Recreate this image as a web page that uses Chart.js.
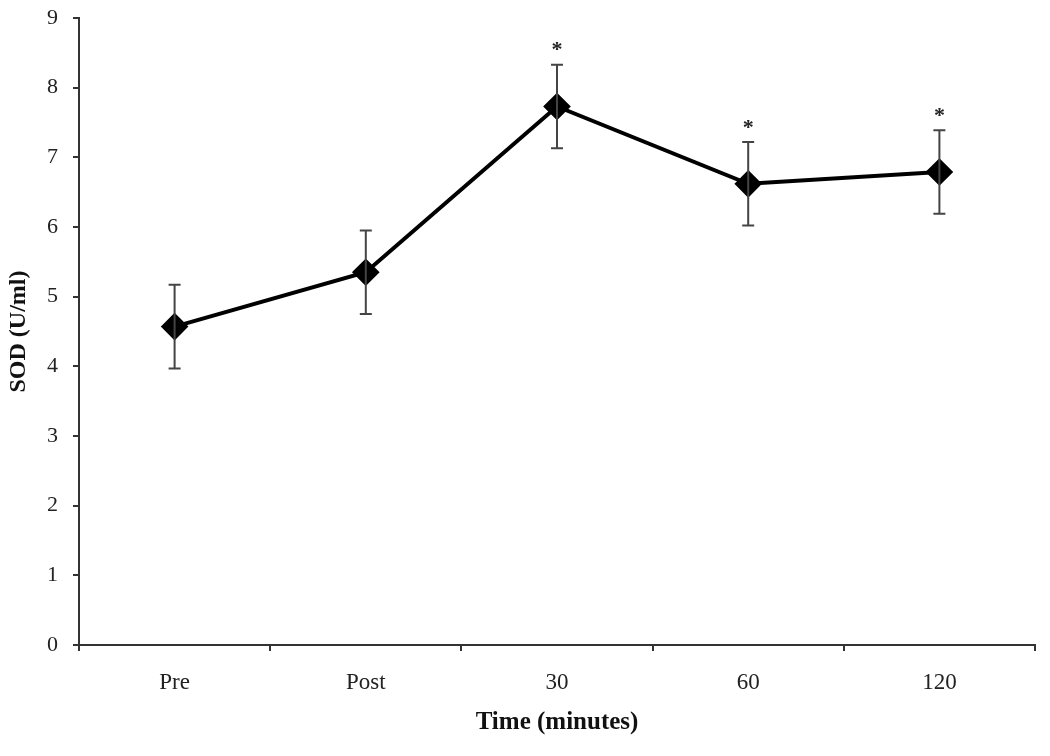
<!DOCTYPE html>
<html>
<head>
<meta charset="utf-8">
<script src="https://cdn.jsdelivr.net/npm/chart.js@4.4.1/dist/chart.umd.min.js"></script>
<style>
  html, body { margin: 0; padding: 0; background: #fff; }
  #wrap { width: 1050px; height: 756px; position: relative; }
</style>
</head>
<body>
<div id="wrap"><canvas id="graficoSOD"></canvas></div>
<script>
/* Datos */
var categorias = ['Pre', 'Post', '30', '60', '120'];
var valoresSOD = [4.57, 5.35, 7.73, 6.62, 6.79];
var erroresSOD = [0.60, 0.60, 0.60, 0.60, 0.60];
var asteriscos = [false, false, true, true, true];
var ticksY = [0, 1, 2, 3, 4, 5, 6, 7, 8, 9];

var colorEje = '#333';
var fuenteSerif = "'Liberation Serif', 'Times New Roman', serif";

/* Plugin: barras de error y asteriscos de significancia */
var pluginErrores = {
    id: 'errores',
    afterDatasetsDraw: function (chart) {
        var ctx = chart.ctx;
        var x = chart.scales.x, y = chart.scales.y;
        ctx.save();
        ctx.strokeStyle = '#444';
        ctx.lineWidth = 2;
        for (var i = 0; i < valoresSOD.length; i++) {
            var px = x.getPixelForValue(i);
            var top = y.getPixelForValue(valoresSOD[i] + erroresSOD[i]);
            var bot = y.getPixelForValue(valoresSOD[i] - erroresSOD[i]);
            ctx.beginPath();
            ctx.moveTo(px, top); ctx.lineTo(px, bot);
            ctx.moveTo(px - 6, top); ctx.lineTo(px + 6, top);
            ctx.moveTo(px - 6, bot); ctx.lineTo(px + 6, bot);
            ctx.stroke();
            if (asteriscos[i]) {
                ctx.fillStyle = '#222';
                ctx.font = 'bold 22px ' + fuenteSerif;
                ctx.textAlign = 'center';
                ctx.textBaseline = 'middle';
                ctx.fillText('*', px, top - 14);
            }
        }
        ctx.restore();
    }
};

new Chart(document.getElementById('graficoSOD'), {
    type: 'line',
    data: {
        labels: categorias,
        datasets: [{
            label: 'SOD',
            data: valoresSOD,
            borderColor: '#000',
            borderWidth: 4,
            pointStyle: 'rectRot',
            pointRadius: 11,
            pointBackgroundColor: '#000',
            pointBorderColor: '#000',
            tension: 0
        }]
    },
    options: {
        responsive: true,
        maintainAspectRatio: false,
        animation: false,
        layout: { padding: { left: 0, right: 14, top: 18, bottom: 14 } },
        plugins: {
            legend: { display: false },
            tooltip: { enabled: false }
        },
        scales: {
            x: {
                offset: true,
                grid: { offset: true, drawOnChartArea: false, drawTicks: true, tickLength: 6, color: colorEje, lineWidth: 2 },
                border: { color: colorEje, width: 2 },
                ticks: { color: '#222', padding: 18, font: { family: fuenteSerif, size: 23 } },
                title: { display: true, text: 'Time (minutes)', color: '#111', font: { family: fuenteSerif, size: 25, weight: 'bold' } },
                afterFit: function (s) { s.height = 97; }
            },
            y: {
                min: 0,
                max: 9,
                afterBuildTicks: function (s) { s.ticks = ticksY.map(function (v) { return { value: v }; }); },
                grid: { drawOnChartArea: false, drawTicks: true, tickLength: 6, color: colorEje, lineWidth: 2 },
                border: { color: colorEje, width: 2 },
                ticks: { color: '#222', padding: 15, font: { family: fuenteSerif, size: 22 } },
                title: { display: true, text: 'SOD (U/ml)', color: '#111', font: { family: fuenteSerif, size: 24, weight: 'bold' } },
                afterFit: function (s) { s.width = 79; s.paddingTop = 0; s.paddingBottom = 0; }
            }
        }
    },
    plugins: [pluginErrores]
});
</script>
</body>
</html>
